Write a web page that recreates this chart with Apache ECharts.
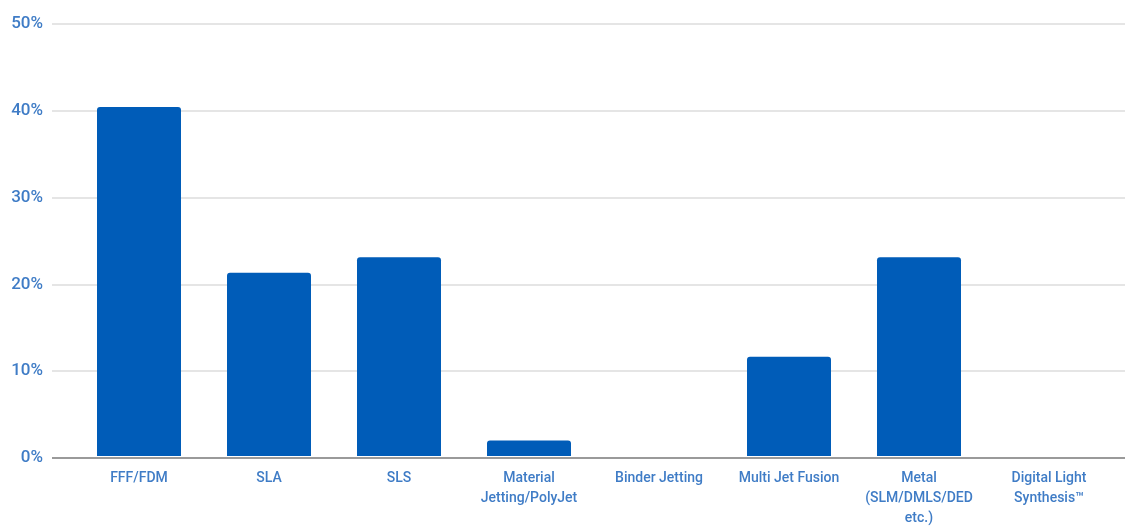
<!DOCTYPE html>
<html>
<head>
<meta charset="utf-8">
<script src="https://cdn.jsdelivr.net/npm/echarts@6/dist/echarts.min.js"></script>
<style>
    html, body { margin: 0; padding: 0; background: #fff; }
    #chart { width: 1125px; height: 528px; }
</style>
</head>
<body>
<div id="chart"></div>
<script>
// technologies and share of use (%)
const categories = [
    'FFF/FDM',
    'SLA',
    'SLS',
    'Material\nJetting/PolyJet',
    'Binder Jetting',
    'Multi Jet Fusion',
    'Metal\n(SLM/DMLS/DED\netc.)',
    'Digital Light\nSynthesis™'
]
const shares = [40.4, 21.2, 23.0, 1.8, 0, 11.5, 23.0, 0]

const labelColor = '#3f7cc6'
const barColor = '#005cb8'

const myChart = echarts.init(document.getElementById('chart'))
myChart.setOption({
    animation: false,
    grid: [
        // wide grid only for the y labels and gridlines
        { left: 52, right: 0, top: 24, bottom: 70 },
        // bars
        { left: 74, right: 11, top: 24, bottom: 70 }
    ],
    xAxis: [
        {
            gridIndex: 0,
            type: 'value',
            show: false
        },
        {
            gridIndex: 1,
            type: 'category',
            data: categories,
            axisLine: { show: false },
            axisTick: { show: false },
            axisLabel: {
                interval: 0,
                color: labelColor,
                fontFamily: 'Roboto',
                fontWeight: 500,
                fontSize: 14,
                lineHeight: 20,
                margin: 12
            }
        }
    ],
    yAxis: [
        {
            gridIndex: 0,
            type: 'value',
            min: 0,
            max: 50,
            interval: 10,
            axisLine: { show: false },
            axisTick: { show: false },
            axisLabel: {
                formatter: (v) => v + '%',
                color: labelColor,
                fontFamily: 'Roboto',
                fontWeight: 500,
                fontSize: 17,
                margin: 9
            },
            splitLine: {
                lineStyle: { color: '#dcdcdc', width: 1.5 }
            }
        },
        {
            gridIndex: 1,
            type: 'value',
            min: 0,
            max: 50,
            show: false
        }
    ],
    series: [
        {
            // baseline across the full width
            type: 'line',
            xAxisIndex: 0,
            yAxisIndex: 0,
            data: [],
            markLine: {
                silent: true,
                symbol: 'none',
                label: { show: false },
                lineStyle: { color: '#9a9a9a', type: 'solid', width: 2 },
                data: [{ yAxis: 0 }]
            }
        },
        {
            type: 'bar',
            xAxisIndex: 1,
            yAxisIndex: 1,
            data: shares,
            barWidth: 84,
            itemStyle: {
                color: barColor,
                borderRadius: [3, 3, 0, 0]
            }
        }
    ]
})
</script>
</body>
</html>
